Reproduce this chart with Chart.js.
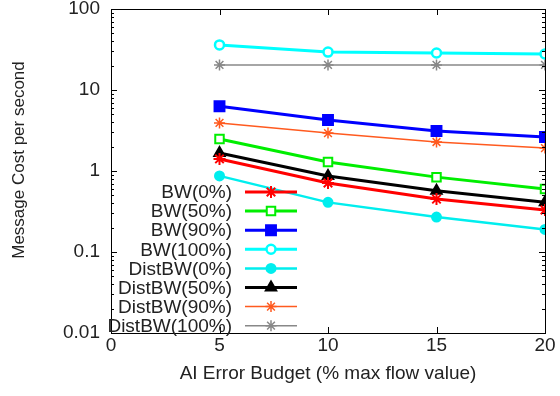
<!DOCTYPE html>
<html>
<head>
<meta charset="utf-8">
<script src="https://cdn.jsdelivr.net/npm/chart.js@4"></script>
<style>
  html, body { margin: 0; padding: 0; background: #fff; }
  #wrap { width: 560px; height: 396px; }
</style>
</head>
<body>
<div id="wrap"><canvas id="chart" width="560" height="396"></canvas></div>
<script>
// data
const budgets = [5, 10, 15, 20];
const xTicks = [0, 5, 10, 15, 20];
const yTicks = [0.01, 0.1, 1, 10, 100];

const bw0 = [1.41, 0.71, 0.45, 0.33];
const bw50 = [2.48, 1.29, 0.84, 0.60];
const bw90 = [6.3, 4.27, 3.12, 2.63];
const bw100 = [36, 29.4, 28.6, 27.8];
const dist0 = [0.87, 0.41, 0.27, 0.19];
const dist50 = [1.67, 0.87, 0.57, 0.41];
const dist90 = [3.92, 2.94, 2.28, 1.92];
const dist100 = [20.4, 20.4, 20.4, 20.4];

const labels = ['BW(0%)', 'BW(50%)', 'BW(90%)', 'BW(100%)',
    'DistBW(0%)', 'DistBW(50%)', 'DistBW(90%)', 'DistBW(100%)'];

function series(label, values, color, style, opts) {
    return Object.assign({
        label: label,
        data: values.map((v, i) => ({ x: budgets[i], y: v })),
        borderColor: color,
        backgroundColor: color,
        pointBorderColor: color,
        pointBackgroundColor: color,
        pointStyle: style,
        borderWidth: 3,
        pointBorderWidth: 2,
        pointRadius: 5,
        tension: 0
    }, opts || {});
}

const datasets = [
    series(labels[0], bw0, '#ff0000', 'star', { pointRadius: 6 }),
    series(labels[1], bw50, '#00ee00', 'rect', { pointBackgroundColor: '#fff', pointRadius: 6 }),
    series(labels[2], bw90, '#0000ff', 'rect', { pointRadius: 7 }),
    series(labels[3], bw100, '#00ffff', 'circle', { pointBackgroundColor: '#fff', pointRadius: 4.5, pointBorderWidth: 2.5 }),
    series(labels[4], dist0, '#00eeee', 'circle', { borderWidth: 2.5, pointRadius: 4.5 }),
    series(labels[5], dist50, '#000000', 'triangle', { pointRadius: 6 }),
    series(labels[6], dist90, '#ff5a1f', 'star', { borderWidth: 1.5, pointBorderWidth: 1.5, pointRadius: 5.5 }),
    series(labels[7], dist100, '#888888', 'star', { borderWidth: 1.5, pointBorderWidth: 1.5, pointRadius: 5.5 })
];

const FONT = 'Liberation Sans, Arial, sans-serif';
const FS = 19;

// frame, inward ticks (gnuplot style), y title and the in-plot legend
const gnuplotFrame = {
    id: 'gnuplotFrame',
    afterDatasetsDraw(chart) {
        const ctx = chart.ctx;
        const a = chart.chartArea;
        const xs = chart.scales.x;
        const ys = chart.scales.y;
        ctx.save();
        ctx.strokeStyle = '#000';
        ctx.lineWidth = 1;
        ctx.beginPath();
        xTicks.forEach(t => {
            const px = Math.round(xs.getPixelForValue(t)) + 0.5;
            ctx.moveTo(px, a.bottom); ctx.lineTo(px, a.bottom - 6);
            ctx.moveTo(px, a.top); ctx.lineTo(px, a.top + 6);
        });
        yTicks.forEach((t, i) => {
            const py = Math.round(ys.getPixelForValue(t)) + 0.5;
            ctx.moveTo(a.left, py); ctx.lineTo(a.left + 6, py);
            ctx.moveTo(a.right, py); ctx.lineTo(a.right - 6, py);
            if (i < yTicks.length - 1) {
                for (let m = 2; m < 10; m++) {
                    const my = Math.round(ys.getPixelForValue(t * m)) + 0.5;
                    ctx.moveTo(a.left, my); ctx.lineTo(a.left + 3, my);
                    ctx.moveTo(a.right, my); ctx.lineTo(a.right - 3, my);
                }
            }
        });
        ctx.stroke();
        ctx.strokeRect(Math.round(a.left) + 0.5, Math.round(a.top) + 0.5,
            Math.round(a.right - a.left), Math.round(a.bottom - a.top));

        // y axis title, sits a bit above the centre like in the original
        ctx.save();
        ctx.translate(19, 160);
        ctx.rotate(-Math.PI / 2);
        ctx.font = '17px ' + FONT;
        ctx.fillStyle = '#222';
        ctx.textAlign = 'center';
        ctx.textBaseline = 'middle';
        ctx.fillText('Message Cost per second', 0, 0);
        ctx.restore();

        // legend
        ctx.font = FS + 'px ' + FONT;
        ctx.textAlign = 'right';
        ctx.textBaseline = 'middle';
        chart.data.datasets.forEach((ds, i) => {
            const y = 192 + i * 19.1;
            ctx.fillStyle = '#222';
            ctx.fillText(ds.label, 232, y + 1);
            ctx.strokeStyle = ds.borderColor;
            ctx.lineWidth = ds.borderWidth;
            ctx.beginPath();
            ctx.moveTo(245, y); ctx.lineTo(297, y);
            ctx.stroke();
            ctx.fillStyle = ds.pointBackgroundColor;
            ctx.strokeStyle = ds.pointBorderColor;
            ctx.lineWidth = ds.pointBorderWidth;
            Chart.helpers.drawPoint(ctx, {
                pointStyle: ds.pointStyle, radius: ds.pointRadius,
                rotation: 0, borderWidth: ds.pointBorderWidth
            }, 271, y);
        });
        ctx.restore();
    }
};

new Chart(document.getElementById('chart'), {
    type: 'line',
    data: { datasets: datasets },
    plugins: [gnuplotFrame],
    options: {
        responsive: false,
        animation: false,
        layout: { padding: { left: 0, right: 15, top: 9, bottom: 11 } },
        plugins: { legend: { display: false }, tooltip: { enabled: false } },
        scales: {
            x: {
                type: 'linear',
                min: 0,
                max: 20,
                afterBuildTicks: s => { s.ticks = xTicks.map(v => ({ value: v })); },
                afterFit: s => { s.height = 52; s.paddingLeft = 0; s.paddingRight = 0; },
                grid: { display: false, drawTicks: false },
                border: { display: false },
                ticks: { color: '#222', font: { family: FONT, size: FS }, padding: 1, maxRotation: 0 },
                title: { display: true, text: 'AI Error Budget (% max flow value)', color: '#222', font: { family: FONT, size: FS }, padding: { top: 0, bottom: 0 } }
            },
            y: {
                type: 'logarithmic',
                min: 0.01,
                max: 100,
                afterBuildTicks: s => { s.ticks = yTicks.map(v => ({ value: v })); },
                afterFit: s => { s.width = 111; s.paddingTop = 0; s.paddingBottom = 0; },
                grid: { display: false, drawTicks: false },
                border: { display: false },
                ticks: { color: '#222', font: { family: FONT, size: FS }, padding: 11, callback: v => String(v) }
            }
        }
    }
});
</script>
</body>
</html>
